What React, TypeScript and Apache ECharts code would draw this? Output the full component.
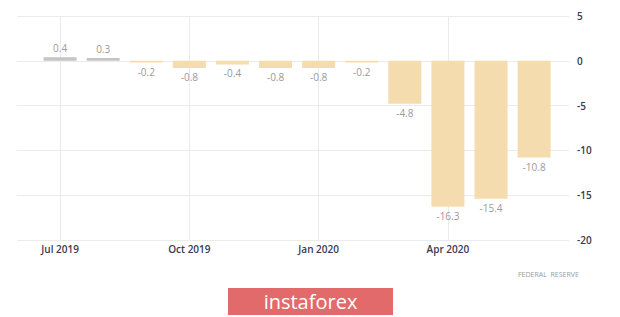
import React, { useEffect, useRef } from "react";
import * as echarts from "echarts";

const months = [
  "Jul 2019", "Aug 2019", "Sep 2019", "Oct 2019", "Nov 2019", "Dec 2019",
  "Jan 2020", "Feb 2020", "Mar 2020", "Apr 2020", "May 2020", "Jun 2020",
];
const values = [0.4, 0.3, -0.2, -0.8, -0.4, -0.8, -0.8, -0.2, -4.8, -16.3, -15.4, -10.8];
const labeledMonths = [0, 3, 6, 9];
const sourceText = "FEDERAL  RESERVE";
const brandText = "instaforex";

export default function App() {
  const ref = useRef<HTMLDivElement>(null);
  useEffect(() => {
    const chart = echarts.init(ref.current!, undefined, { renderer: "svg" });
    const font = "'Open Sans', 'DejaVu Sans', sans-serif";
    chart.setOption({
      animation: false,
      textStyle: { fontFamily: font },
      grid: { left: 17, right: 51, top: 16, bottom: 77 },
      xAxis: {
        type: "value",
        min: -1,
        max: 11.81,
        splitLine: { show: false },
        axisLine: { show: false },
        axisTick: { show: false },
        axisLabel: {
          customValues: labeledMonths,
          formatter: (v: number) => months[Math.round(v)] ?? "",
          color: "#3a3a4a",
          fontSize: 10,
          fontWeight: 600,
          margin: 4,
        },
      },
      yAxis: {
        type: "value",
        position: "right",
        min: -20,
        max: 5,
        interval: 5,
        axisLine: { show: false },
        axisTick: { show: false },
        splitLine: { lineStyle: { color: "#ebebeb", width: 1 } },
        axisLabel: { color: "#3a3a4a", fontSize: 10, fontWeight: 600, margin: 8 },
      },
      series: [
        {
          type: "line",
          data: [],
          z: 0,
          silent: true,
          markLine: {
            z: 0,
            silent: true,
            symbol: ["none", "none"],
            label: { show: false },
            lineStyle: { color: "#ebebeb", type: "solid", width: 1 },
            data: labeledMonths.map((m) => ({ xAxis: m })),
          },
        },
        {
          type: "bar",
          z: 3,
          barWidth: 33,
          data: values.map((v, i) => ({
            value: [i, v],
            itemStyle: { color: v >= 0 ? "#c4c4c4" : "#f4dcae" },
            label: { position: v >= 0 ? "top" : "bottom" },
          })),
          label: {
            show: true,
            distance: 4,
            color: "#9a9a9a",
            fontSize: 10,
            formatter: (p: any) => p.value[1].toFixed(1),
          },
        },
      ],
      graphic: [
        {
          type: "text",
          x: 518,
          y: 271,
          style: { text: sourceText, fill: "#9a9a9a", fontSize: 7, fontFamily: font },
        },
        {
          type: "rect",
          shape: { x: 228, y: 288, width: 165, height: 27 },
          style: { fill: "#e26a6a" },
        },
        {
          type: "text",
          x: 310.5,
          y: 301.5,
          style: {
            text: brandText,
            fill: "#ffffff",
            fontSize: 20,
            fontFamily: font,
            align: "center",
            verticalAlign: "middle",
          },
        },
      ],
    });
    return () => chart.dispose();
  }, []);
  return (
    <div
      ref={ref}
      style={{ position: "absolute", left: 0, top: 0, width: 620, height: 317, background: "#fff" }}
    />
  );
}
